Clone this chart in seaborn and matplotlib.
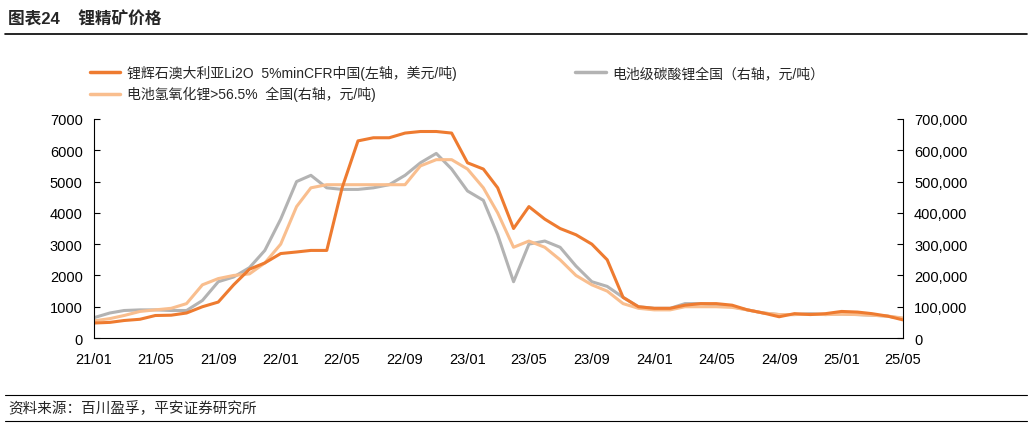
import matplotlib
matplotlib.use("Agg")
import matplotlib.pyplot as plt
import matplotlib.dates as mdates
import pandas as pd
import seaborn as sns

sns.set_style("white")
plt.rcParams["font.family"] = ["Liberation Sans", "Noto Sans CJK SC", "DejaVu Sans"]

months = pd.date_range("2021-01-01", "2025-05-01", freq="MS")

# 锂辉石澳大利亚Li2O 5%minCFR中国 (USD/t, left axis)
spodumene = [480, 500, 560, 600, 720, 730, 800, 1000, 1150, 1700, 2200, 2400,
             2700, 2750, 2800, 2800, 4800, 6300, 6400, 6400, 6550, 6600, 6600, 6550,
             5600, 5400, 4800, 3500, 4200, 3800, 3500, 3300, 3000, 2500, 1300, 1000,
             950, 950, 1050, 1100, 1100, 1050, 900, 800, 680, 780, 750, 780,
             850, 830, 780, 700, 580]
# 电池级碳酸锂全国 (CNY/t, right axis)
carbonate = [65000, 80000, 88000, 90000, 90000, 88000, 88000, 120000, 180000, 195000, 225000, 280000,
             380000, 500000, 520000, 480000, 475000, 475000, 480000, 490000, 520000, 560000, 590000, 540000,
             470000, 440000, 330000, 180000, 300000, 310000, 290000, 230000, 180000, 165000, 130000, 100000,
             95000, 95000, 110000, 110000, 105000, 100000, 90000, 80000, 75000, 75000, 78000, 75000,
             77000, 75000, 73000, 70000, 62000]
# 电池氢氧化锂>56.5% 全国 (CNY/t, right axis)
hydroxide = [55000, 62000, 72000, 85000, 90000, 95000, 110000, 170000, 190000, 200000, 205000, 240000,
             300000, 420000, 480000, 490000, 490000, 490000, 490000, 490000, 490000, 550000, 570000, 570000,
             540000, 480000, 400000, 290000, 310000, 290000, 250000, 200000, 170000, 150000, 110000, 95000,
             90000, 90000, 100000, 100000, 100000, 98000, 90000, 80000, 75000, 75000, 76000, 75000,
             76000, 75000, 73000, 70000, 64000]

df = pd.DataFrame({"date": months, "spodumene": spodumene,
                   "carbonate": carbonate, "hydroxide": hydroxide})

c_or, c_gray, c_light = "#EE7B30", "#B3B3B3", "#F9BE8E"

fig = plt.figure(figsize=(10.32, 4.27), dpi=100)
ax = fig.add_axes([0.091, 0.206, 0.784, 0.513])
ax2 = ax.twinx()

sns.lineplot(data=df, x="date", y="carbonate", ax=ax2, color=c_gray, lw=2.2, legend=False)
sns.lineplot(data=df, x="date", y="hydroxide", ax=ax2, color=c_light, lw=2.2, legend=False)
sns.lineplot(data=df, x="date", y="spodumene", ax=ax, color=c_or, lw=2.2, legend=False)
ax.set_zorder(ax2.get_zorder() + 1)
ax.patch.set_visible(False)

ax.set_ylim(0, 7000)
ax2.set_ylim(0, 700000)
ax.set_yticks(range(0, 7001, 1000))
ax2.set_yticks(range(0, 700001, 100000))
ax2.set_yticklabels([f"{v:,}" for v in range(0, 700001, 100000)])
ax.set_xlim(pd.Timestamp("2021-01-01"), pd.Timestamp("2025-05-01"))
ax.xaxis.set_major_locator(mdates.MonthLocator(bymonth=[1, 5, 9]))
ax.xaxis.set_major_formatter(mdates.DateFormatter("%y/%m"))
for a in (ax, ax2):
    a.set_xlabel("")
    a.set_ylabel("")
    a.tick_params(labelsize=10.5, colors="black", length=4, direction="in", width=0.8)
    for s in a.spines.values():
        s.set_visible(False)
ax.spines["bottom"].set_visible(True)
ax.spines["left"].set_visible(True)
ax2.spines["right"].set_visible(True)
for s in (ax.spines["bottom"], ax.spines["left"], ax2.spines["right"]):
    s.set_color("black")
    s.set_linewidth(0.8)
ax.tick_params(axis="x", direction="out", pad=6)
ax.tick_params(axis="y", pad=8)
ax2.tick_params(axis="y", pad=8)

h1 = plt.Line2D([], [], color=c_or, lw=2.5)
h2 = plt.Line2D([], [], color=c_light, lw=2.5)
h3 = plt.Line2D([], [], color=c_gray, lw=2.5)
fig.legend([h1, h2, h3],
           ["锂辉石澳大利亚Li2O  5%minCFR中国(左轴，美元/吨)",
            "电池氢氧化锂>56.5%  全国(右轴，元/吨)",
            "电池级碳酸锂全国（右轴，元/吨）"],
           ncol=2, loc="upper left", bbox_to_anchor=(0.075, 0.875), frameon=False,
           fontsize=10, columnspacing=8.5, handlelength=2.2, handletextpad=0.5,
           labelspacing=0.45)

fig.text(0.008, 0.955, "图表24    锂精矿价格", fontsize=12, fontweight="bold", va="center")
fig.add_artist(plt.Line2D([0.005, 0.995], [0.918, 0.918], color="black", lw=1.2))
fig.add_artist(plt.Line2D([0.005, 0.995], [0.072, 0.072], color="black", lw=0.8))
fig.add_artist(plt.Line2D([0.005, 0.995], [0.012, 0.012], color="black", lw=0.8))
fig.text(0.008, 0.042, "资料来源：百川盈孚，平安证券研究所", fontsize=10.5,
         style="italic", va="center")

fig.savefig("out.png", dpi=100)
